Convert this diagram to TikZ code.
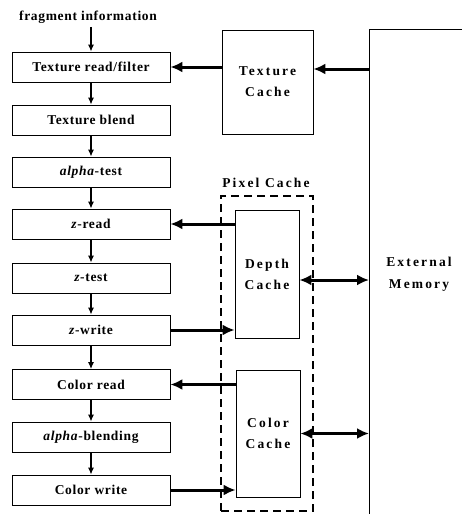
\documentclass[tikz,border=0pt]{standalone}
\usepackage{fontspec}
\setmainfont{Liberation Serif}[LetterSpace=5]
\newfontfamily\widefont{Liberation Serif}[LetterSpace=16]
\usetikzlibrary{arrows.meta}
\begin{document}
\begin{tikzpicture}[x=1pt,y=-1pt,
  every node/.style={font=\fontsize{13.5}{20}\selectfont\bfseries},
  wide/.style={font=\widefont\fontsize{13.5}{21}\selectfont\bfseries},
  stage/.style={draw,line width=0.8pt,minimum width=158pt,minimum height=30pt,inner sep=0pt},
  cachebox/.style={draw,line width=0.8pt,inner sep=0pt,align=center,wide},
  thin arrow/.style={line width=1.3pt,-{Latex[length=7pt,width=6pt]}},
  thick arrow/.style={line width=3pt,-{Latex[length=12pt,width=11pt]}},
  both arrow/.style={line width=3pt,{Latex[length=12pt,width=11pt]}-{Latex[length=12pt,width=11pt]}}]
\useasboundingbox (0,0) rectangle (462,514);
\node (frag) at (88,17) {fragment information};
\node[stage] (trf) at (91,67) {Texture read/filter};
\node[stage] (tb) at (91,120) {Texture blend};
\node[stage] (at) at (91,172) {\textit{alpha}-test};
\node[stage] (zr) at (91,224) {\textit{z}-read};
\node[stage] (zt) at (91,278) {\textit{z}-test};
\node[stage] (zw) at (91,330) {\textit{z}-write};
\node[stage] (cr) at (91,384.5) {Color read};
\node[stage] (ab) at (91,437) {\textit{alpha}-blending};
\node[stage] (cw) at (91,490) {Color write};
\foreach \a/\b in {trf/tb,tb/at,at/zr,zr/zt,zt/zw,zw/cr,cr/ab,ab/cw}
  \draw[thin arrow] (\a.south) -- (\b.north);
\draw[thin arrow] (frag.south -| trf.north) -- (trf.north);
% texture cache
\node[cachebox,minimum width=91pt,minimum height=104pt] (tc) at (267.5,82) {Texture\\Cache};
% external memory
\coordinate (ebot) at (369,514);
\coordinate (etop) at (369,29);
\coordinate (eright) at (462,29);
\draw[line width=0.8pt] (ebot) -- (etop) -- (eright);
\node[align=center,wide,font=\widefont\fontsize{13.5}{22}\selectfont\bfseries] (em) at (419,274) {External\\Memory};
% pixel cache
\node[draw,line width=2.5pt,dash pattern=on 8pt off 5pt,minimum width=92pt,minimum height=315pt,inner sep=0pt] (pc) at (267,353.5) {};
\node[wide] (pcl) at (266,183) {Pixel Cache};
\node[cachebox,minimum width=64pt,minimum height=128pt] (dc) at (267,274) {Depth\\Cache};
\node[cachebox,minimum width=64pt,minimum height=127pt] (cc) at (268,433.5) {Color\\Cache};
% arrows
\draw[thick arrow] (tc.east |- trf.east) ++(0,2) coordinate (t1) (etop |- t1) -- (t1);
\draw[thick arrow] (trf.east -| tc.west) -- (trf.east);
\draw[thick arrow] (zr.east -| dc.west) -- (zr.east);
\draw[thick arrow] (zw.east) -- (zw.east -| dc.west);
\draw[thick arrow] (cr.east -| cc.west) -- (cr.east);
\draw[thick arrow] (cw.east) -- (cw.east -| cc.west);
\draw[both arrow] ([yshift=-6pt]dc.east) -- ([yshift=-6pt]dc.east -| etop);
\draw[both arrow] (cc.east) -- (cc.east -| etop);
\end{tikzpicture}
\end{document}
